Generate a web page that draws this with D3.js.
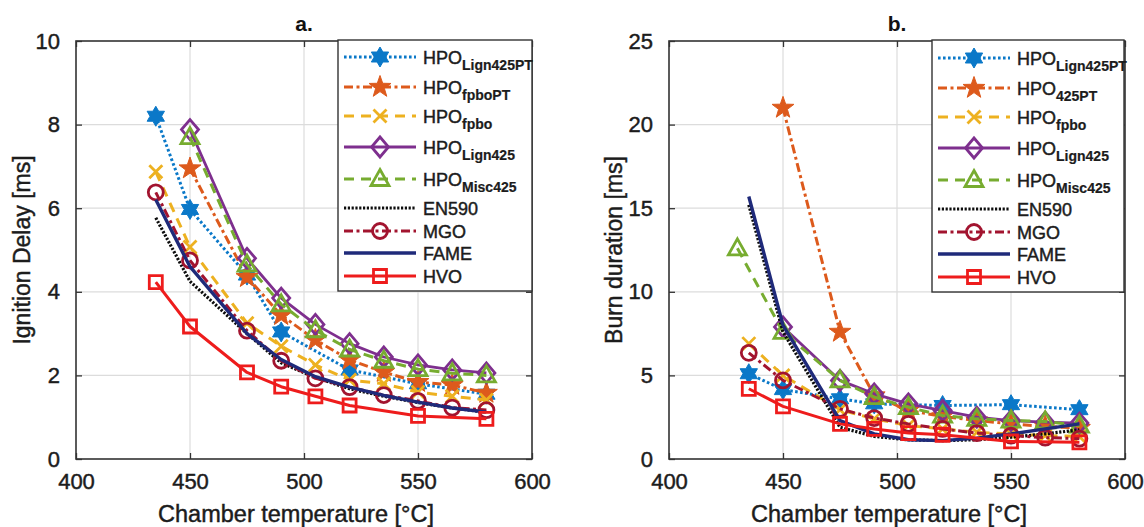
<!DOCTYPE html>
<html>
<head>
<meta charset="utf-8">
<script src="https://cdn.jsdelivr.net/npm/d3@7"></script>
<style>
  body { margin: 0; background: #fff; }
  svg { display: block; font-family: "Liberation Sans", Arial, Helvetica, sans-serif; }
  text { paint-order: stroke; }
</style>
</head>
<body>
<svg id="chart" width="1144" height="527"></svg>
<script>
// ---- Temperatures [°C] at which each fuel was measured ----
const tempFull   = [435, 450, 475, 490, 505, 520, 535, 550, 565, 580];
const temp450    = [450, 475, 490, 505, 520, 535, 550, 565, 580];
const tempLignPT = [435, 450, 475, 490, 520, 550, 580];
const tempHVO    = [435, 450, 475, 490, 505, 520, 550, 580];
const tempMiscB  = [430, 450, 475, 490, 505, 520, 535, 550, 565, 580];

// ---- a. Ignition delay [ms] ----
const idLign425PT = [8.2, 5.97, 4.4, 3.04, 2.13, 1.8, 1.55];
const idFpboPT    = [6.95, 4.35, 3.44, 2.85, 2.37, 2.08, 1.84, 1.77, 1.58];
const idFpbo      = [6.87, 5.07, 3.25, 2.7, 2.25, 1.89, 1.8, 1.6, 1.5, 1.41];
const idLign425   = [7.88, 4.8, 3.85, 3.22, 2.76, 2.44, 2.25, 2.13, 2.06];
const idMisc425   = [7.7, 4.65, 3.7, 3.08, 2.62, 2.35, 2.15, 2.05, 2.0];
const idEN590     = [5.77, 4.25, 3.0, 2.3, 1.95, 1.68, 1.5, 1.35, 1.22, 1.12];
const idMGO       = [6.38, 4.75, 3.07, 2.35, 1.93, 1.72, 1.53, 1.39, 1.23, 1.17];
const idFAME      = [6.2, 4.6, 3.0, 2.38, 1.97, 1.72, 1.52, 1.36, 1.22, 1.12];
const idHVO       = [4.23, 3.17, 2.07, 1.73, 1.5, 1.28, 1.03, 0.96];

// ---- b. Burn duration [ms] ----
const bdLign425PT = [5.1, 4.15, 3.6, 3.3, 3.2, 3.25, 2.95];
const bd425PT     = [21.0, 7.6, 3.8, 2.9, 2.55, 2.3, 2.1, 1.95, 1.85];
const bdFpbo      = [6.9, 5.0, 2.95, 2.4, 2.0, 1.8, 1.6, 1.5, 1.4, 1.35];
const bdLign425   = [7.9, 4.7, 3.9, 3.3, 2.9, 2.5, 2.3, 2.2, 2.15];
const bdMisc425   = [12.6, 7.6, 4.7, 3.7, 3.1, 2.6, 2.4, 2.3, 2.25, 2.0];
const bdEN590     = [15.2, 7.6, 1.9, 1.35, 1.15, 1.1, 1.15, 1.3, 1.5, 1.75];
const bdMGO       = [6.35, 4.7, 3.0, 2.45, 2.1, 1.8, 1.55, 1.4, 1.28, 1.22];
const bdFAME      = [15.7, 8.0, 2.3, 1.5, 1.15, 1.1, 1.25, 1.5, 1.8, 2.1];
const bdHVO       = [4.2, 3.15, 2.1, 1.8, 1.55, 1.45, 1.05, 1.0];

// ---- Legend labels ----
const labelMain = ["HPO", "HPO", "HPO", "HPO", "HPO", "EN590", "MGO", "FAME", "HVO"];
const labelSubA = ["Lign425PT", "fpboPT", "fpbo", "Lign425", "Misc425", "", "", "", ""];
const labelSubB = ["Lign425PT", "425PT", "fpbo", "Lign425", "Misc425", "", "", "", ""];

// ---- Axis ticks ----
const xTicks  = [400, 450, 500, 550, 600];
const yTicksA = [0, 2, 4, 6, 8, 10];
const yTicksB = [0, 5, 10, 15, 20, 25];

// Line/marker styles, in plotting order
const styles = [
  { color: "#0A78C8", dash: "2.6,2.4", marker: "hexagram", fill: true, width: 3 },
  { color: "#DD5A1C", dash: "9,3.5,3,3.5", marker: "pentagram", fill: true, width: 3 },
  { color: "#EDB120", dash: "10,7", marker: "x", width: 3 },
  { color: "#7E2F8E", dash: null, marker: "diamond", width: 2.8 },
  { color: "#77AC30", dash: "10,7", marker: "triangle", width: 3 },
  { color: "#0d0d0d", dash: "2.2,1.6", marker: null, width: 3.2 },
  { color: "#A2142F", dash: "9,3.5,3,3.5", marker: "circle", width: 3 },
  { color: "#1F2A7A", dash: null, marker: null, width: 3.4 },
  { color: "#EE1C1C", dash: null, marker: "square", width: 3 }
];

function starPath(n, R, r) {
  const pts = [];
  for (let i = 0; i < 2 * n; i++) {
    const a = -Math.PI / 2 + i * Math.PI / n;
    const rad = i % 2 === 0 ? R : r;
    pts.push([rad * Math.cos(a), rad * Math.sin(a)]);
  }
  return "M" + pts.map(p => p[0].toFixed(2) + "," + p[1].toFixed(2)).join("L") + "Z";
}

function markerPath(type) {
  switch (type) {
    case "hexagram":  return starPath(6, 10, 10 / Math.sqrt(3));
    case "pentagram": return starPath(5, 11.5, 4.6);
    case "x":         return "M-6.5,-6.5L6.5,6.5M-6.5,6.5L6.5,-6.5";
    case "diamond":   return "M0,-10L8.5,0L0,10L-8.5,0Z";
    case "triangle":  return "M0,-9.5L9,6.5L-9,6.5Z";
    case "circle":    return d3.symbol(d3.symbolCircle, Math.PI * 7.5 * 7.5)();
    case "square":    return "M-6.5,-6.5H6.5V6.5H-6.5Z";
  }
  return null;
}

const svg = d3.select("#chart");
const textColor = "#1c1c1c";

function styleText(sel, size) {
  sel.attr("font-size", size).attr("fill", textColor)
    .attr("stroke", textColor).attr("stroke-width", 0.45)
    .attr("font-family", "Liberation Sans, Arial, sans-serif");
}

function drawPanel(cfg) {
  const x = d3.scaleLinear().domain([400, 600]).range([cfg.left, cfg.right]);
  const y = d3.scaleLinear().domain(cfg.yDomain).range([cfg.bottom, cfg.top]);
  const g = svg.append("g");

  // grid
  g.append("g").selectAll("line").data(xTicks.slice(1, -1)).join("line")
    .attr("x1", d => x(d)).attr("x2", d => x(d))
    .attr("y1", cfg.top).attr("y2", cfg.bottom)
    .attr("stroke", "#dcdcdc").attr("stroke-width", 1.2);
  g.append("g").selectAll("line").data(cfg.yTicks.slice(1, -1)).join("line")
    .attr("y1", d => y(d)).attr("y2", d => y(d))
    .attr("x1", cfg.left).attr("x2", cfg.right)
    .attr("stroke", "#dcdcdc").attr("stroke-width", 1.2);

  // series
  const line = d3.line().x(d => x(d[0])).y(d => y(d[1]));
  cfg.series.forEach((s, i) => {
    const st = styles[i];
    const pts = s.t.map((t, k) => [t, s.v[k]]);
    const sg = g.append("g");
    sg.append("path").datum(pts)
      .attr("d", line)
      .attr("fill", "none")
      .attr("stroke", st.color)
      .attr("stroke-width", st.width)
      .attr("stroke-dasharray", st.dash)
      .attr("stroke-linejoin", "round");
    if (st.marker) {
      sg.selectAll("path.mk").data(pts).join("path")
        .attr("class", "mk")
        .attr("d", markerPath(st.marker))
        .attr("transform", d => `translate(${x(d[0])},${y(d[1])})`)
        .attr("fill", st.fill ? st.color : "none")
        .attr("stroke", st.color)
        .attr("stroke-width", st.fill ? 1 : 2.8)
        .attr("stroke-linejoin", "miter");
    }
  });

  // axes box
  g.append("rect")
    .attr("x", cfg.left).attr("y", cfg.top)
    .attr("width", cfg.right - cfg.left).attr("height", cfg.bottom - cfg.top)
    .attr("fill", "none").attr("stroke", "#333").attr("stroke-width", 1.6);

  // bottom axis ticks/labels
  const xAxis = d3.axisBottom(x).tickValues(xTicks).tickSize(-6).tickPadding(14).tickFormat(d3.format("d"));
  const ax = g.append("g").attr("transform", `translate(0,${cfg.bottom})`).call(xAxis);
  ax.select(".domain").remove();
  ax.selectAll("line").attr("stroke", "#333").attr("stroke-width", 1.3);
  styleText(ax.selectAll("text"), 22);
  // top ticks
  const axT = g.append("g").attr("transform", `translate(0,${cfg.top})`)
    .call(d3.axisTop(x).tickValues(xTicks).tickSize(-6).tickFormat(""));
  axT.select(".domain").remove();
  axT.selectAll("line").attr("stroke", "#333").attr("stroke-width", 1.3);

  // left axis
  const yAxis = d3.axisLeft(y).tickValues(cfg.yTicks).tickSize(-6).tickPadding(16).tickFormat(d3.format("d"));
  const ay = g.append("g").attr("transform", `translate(${cfg.left},0)`).call(yAxis);
  ay.select(".domain").remove();
  ay.selectAll("line").attr("stroke", "#333").attr("stroke-width", 1.3);
  styleText(ay.selectAll("text"), 22);
  const ayR = g.append("g").attr("transform", `translate(${cfg.right},0)`)
    .call(d3.axisRight(y).tickValues(cfg.yTicks).tickSize(-6).tickFormat(""));
  ayR.select(".domain").remove();
  ayR.selectAll("line").attr("stroke", "#333").attr("stroke-width", 1.3);

  // labels
  g.append("text")
    .attr("x", (cfg.left + cfg.right) / 2).attr("y", 31)
    .attr("text-anchor", "middle").attr("font-size", 21).attr("font-weight", "bold")
    .attr("fill", "#111").text(cfg.title);
  styleText(g.append("text")
    .attr("x", (cfg.left + cfg.right) / 2 - 8).attr("y", 522)
    .attr("text-anchor", "middle")
    .text("Chamber temperature [°C]"), 23.5);
  styleText(g.append("text")
    .attr("transform", `translate(${cfg.ylabelX},${(cfg.top + cfg.bottom) / 2}) rotate(-90)`)
    .attr("text-anchor", "middle")
    .text(cfg.ylabel), 23);

  // legend
  const L = cfg.legend;
  const lg = g.append("g");
  lg.append("rect")
    .attr("x", L.x0).attr("y", L.y0)
    .attr("width", L.x1 - L.x0).attr("height", L.y1 - L.y0)
    .attr("fill", "#fff").attr("stroke", "#333").attr("stroke-width", 1.4);
  const rowY = [57, 87, 116, 147, 179, 208, 231, 253, 276];
  styles.forEach((st, i) => {
    const yy = rowY[i] + L.dy;
    const xa = L.x0 + 6, xb = L.x0 + 78, xm = (xa + xb) / 2;
    lg.append("line")
      .attr("x1", xa).attr("x2", xb).attr("y1", yy).attr("y2", yy)
      .attr("stroke", st.color).attr("stroke-width", st.width)
      .attr("stroke-dasharray", st.dash);
    if (st.marker) {
      lg.append("path")
        .attr("d", markerPath(st.marker))
        .attr("transform", `translate(${xm},${yy})`)
        .attr("fill", st.fill ? st.color : "none")
        .attr("stroke", st.color)
        .attr("stroke-width", st.fill ? 1 : 2.8);
    }
    const t = lg.append("text")
      .attr("x", L.x0 + 85).attr("y", yy + 6.5);
    styleText(t, 18);
    t.append("tspan").text(labelMain[i]);
    if (cfg.subs[i]) {
      t.append("tspan").attr("dy", 6).attr("font-size", 14).attr("font-weight", "bold")
        .attr("stroke-width", 0.2).text(cfg.subs[i]);
    }
  });
}

drawPanel({
  left: 76, right: 532, top: 41, bottom: 459,
  yDomain: [0, 10], yTicks: yTicksA,
  title: "a.", ylabel: "Ignition Delay [ms]", ylabelX: 30,
  subs: labelSubA,
  legend: { x0: 338, x1: 532, y0: 40, y1: 291, dy: 0 },
  series: [
    { t: tempLignPT, v: idLign425PT },
    { t: temp450,    v: idFpboPT },
    { t: tempFull,   v: idFpbo },
    { t: temp450,    v: idLign425 },
    { t: temp450,    v: idMisc425 },
    { t: tempFull,   v: idEN590 },
    { t: tempFull,   v: idMGO },
    { t: tempFull,   v: idFAME },
    { t: tempHVO,    v: idHVO }
  ]
});

drawPanel({
  left: 669, right: 1125, top: 41, bottom: 459,
  yDomain: [0, 25], yTicks: yTicksB,
  title: "b.", ylabel: "Burn duration [ms]", ylabelX: 622,
  subs: labelSubB,
  legend: { x0: 932, x1: 1124, y0: 40, y1: 292, dy: 1 },
  series: [
    { t: tempLignPT, v: bdLign425PT },
    { t: temp450,    v: bd425PT },
    { t: tempFull,   v: bdFpbo },
    { t: temp450,    v: bdLign425 },
    { t: tempMiscB,  v: bdMisc425 },
    { t: tempFull,   v: bdEN590 },
    { t: tempFull,   v: bdMGO },
    { t: tempFull,   v: bdFAME },
    { t: tempHVO,    v: bdHVO }
  ]
});
</script>
</body>
</html>
